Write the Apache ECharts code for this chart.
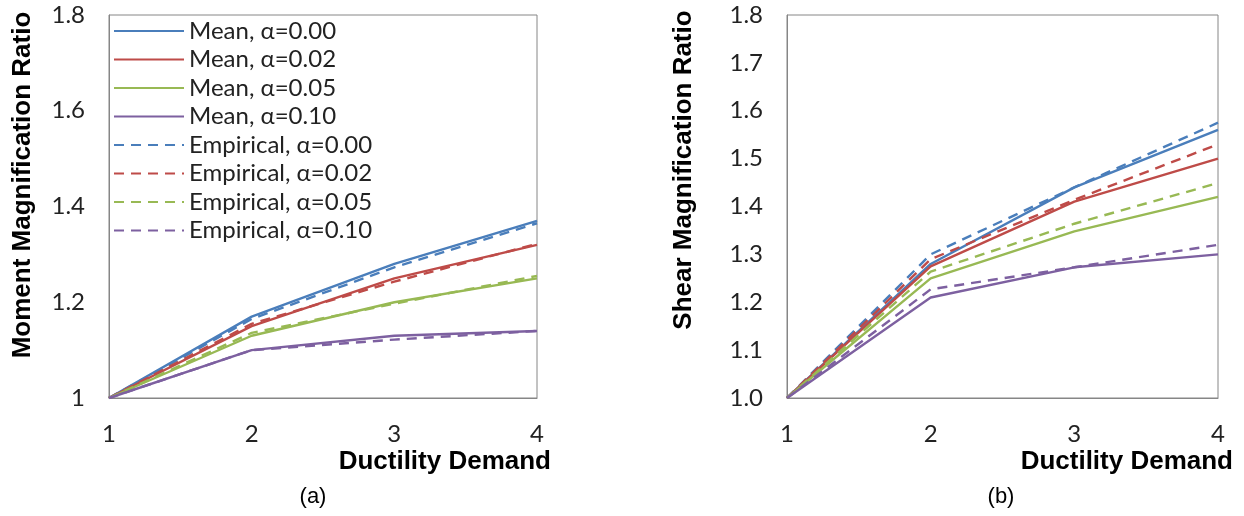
<!DOCTYPE html>
<html>
<head>
<meta charset="utf-8">
<script src="https://cdn.jsdelivr.net/npm/echarts@6/dist/echarts.min.js"></script>
<style>
  html, body { margin: 0; padding: 0; background: #ffffff; }
  #chart { width: 1244px; height: 516px; }
</style>
</head>
<body>
<div id="chart"></div>
<script>
// ---- data ----
var ductility = [1, 2, 3, 4];
var seriesNames = ['Mean, α=0.00', 'Mean, α=0.02', 'Mean, α=0.05', 'Mean, α=0.10',
                   'Empirical, α=0.00', 'Empirical, α=0.02', 'Empirical, α=0.05', 'Empirical, α=0.10'];

// (a) Moment magnification ratio
var momentMean000 = [1, 1.17, 1.28, 1.37];
var momentMean002 = [1, 1.15, 1.25, 1.32];
var momentMean005 = [1, 1.13, 1.20, 1.25];
var momentMean010 = [1, 1.10, 1.13, 1.14];
var momentEmp000 = [1, 1.165, 1.273, 1.365];
var momentEmp002 = [1, 1.155, 1.243, 1.322];
var momentEmp005 = [1, 1.136, 1.197, 1.255];
var momentEmp010 = [1, 1.10, 1.122, 1.14];

// (b) Shear magnification ratio
var shearMean000 = [1, 1.28, 1.44, 1.56];
var shearMean002 = [1, 1.275, 1.41, 1.50];
var shearMean005 = [1, 1.25, 1.348, 1.42];
var shearMean010 = [1, 1.21, 1.273, 1.30];
var shearEmp000 = [1, 1.30, 1.44, 1.575];
var shearEmp002 = [1, 1.29, 1.414, 1.53];
var shearEmp005 = [1, 1.264, 1.364, 1.449];
var shearEmp010 = [1, 1.227, 1.273, 1.32];

var momentTicks = [1, 1.2, 1.4, 1.6, 1.8];
var shearTicks = [1.0, 1.1, 1.2, 1.3, 1.4, 1.5, 1.6, 1.7, 1.8];

// ---- styling ----
var colors = ['#4A7EBB', '#BE4B48', '#98B954', '#7D60A0'];
var tickFont = 'Lato';
var titleFont = '"Liberation Sans", Arial, sans-serif';
var axisGray = '#868686';

function pairs(ys) { return ductility.map(function (x, i) { return [x, ys[i]]; }); }

function mk(name, ys, idx, colorIdx, dashed) {
  return {
    name: name, type: 'line', xAxisIndex: idx, yAxisIndex: idx,
    data: pairs(ys), symbol: 'none', showSymbol: false, silent: true,
    animation: false,
    lineStyle: { color: colors[colorIdx], width: 2.4, type: dashed ? [10, 7] : 'solid' },
    itemStyle: { color: colors[colorIdx] }
  };
}

var momentSets = [momentMean000, momentMean002, momentMean005, momentMean010,
                  momentEmp000, momentEmp002, momentEmp005, momentEmp010];
var shearSets = [shearMean000, shearMean002, shearMean005, shearMean010,
                 shearEmp000, shearEmp002, shearEmp005, shearEmp010];

var series = [];
momentSets.forEach(function (s, i) { series.push(mk(seriesNames[i], s, 0, i % 4, i >= 4)); });
shearSets.forEach(function (s, i) { series.push(mk(seriesNames[i], s, 1, i % 4, i >= 4)); });

function xAxis(gi) {
  return {
    type: 'value', gridIndex: gi, min: 1, max: 4, interval: 1,
    axisLine: { show: true, lineStyle: { color: axisGray, width: 1 } },
    axisTick: { show: false }, splitLine: { show: false },
    axisLabel: { fontFamily: tickFont, fontSize: 24, color: '#222', margin: 24 }
  };
}
function yAxis(gi, ticks, fmt) {
  return {
    type: 'value', gridIndex: gi, min: ticks[0], max: ticks[ticks.length - 1],
    interval: Math.round((ticks[1] - ticks[0]) * 10) / 10,
    axisLine: { show: true, lineStyle: { color: axisGray, width: 1 } },
    axisTick: { show: false }, splitLine: { show: false },
    axisLabel: { fontFamily: tickFont, fontSize: 24, color: '#222', margin: 24, formatter: fmt }
  };
}

var option = {
  backgroundColor: '#ffffff',
  animation: false,
  grid: [
    { left: 109, top: 15, width: 428, height: 383, show: true, borderColor: axisGray, borderWidth: 1, backgroundColor: '#fff' },
    { left: 787, top: 15, width: 431, height: 383, show: true, borderColor: axisGray, borderWidth: 1, backgroundColor: '#fff' }
  ],
  xAxis: [xAxis(0), xAxis(1)],
  yAxis: [
    yAxis(0, momentTicks, function (v) { return String(Number(v.toFixed(1))); }),
    yAxis(1, shearTicks, function (v) { return v.toFixed(1); })
  ],
  legend: {
    data: seriesNames, orient: 'vertical', left: 113, top: 18, padding: 0,
    itemWidth: 70, itemHeight: 2, itemGap: 2.5,
    itemStyle: { opacity: 0 },
    textStyle: { fontFamily: tickFont, fontSize: 24, color: '#222', lineHeight: 26 },
    selectedMode: false
  },
  graphic: [
    { type: 'text', x: 23, y: 185, rotation: Math.PI / 2,
      style: { text: 'Moment Magnification Ratio', font: 'bold 26px ' + titleFont, fill: '#000', textAlign: 'center', textVerticalAlign: 'middle' } },
    { type: 'text', x: 684, y: 170, rotation: Math.PI / 2,
      style: { text: 'Shear Magnification Ratio', font: 'bold 26px ' + titleFont, fill: '#000', textAlign: 'center', textVerticalAlign: 'middle' } },
    { type: 'text', x: 551, y: 462,
      style: { text: 'Ductility Demand', font: 'bold 26px ' + titleFont, fill: '#000', textAlign: 'right', textVerticalAlign: 'middle' } },
    { type: 'text', x: 1233, y: 462,
      style: { text: 'Ductility Demand', font: 'bold 26px ' + titleFont, fill: '#000', textAlign: 'right', textVerticalAlign: 'middle' } },
    { type: 'text', x: 313, y: 497,
      style: { text: '(a)', font: '22px ' + titleFont, fill: '#000', textAlign: 'center', textVerticalAlign: 'middle' } },
    { type: 'text', x: 1001, y: 497,
      style: { text: '(b)', font: '22px ' + titleFont, fill: '#000', textAlign: 'center', textVerticalAlign: 'middle' } }
  ],
  series: series
};

var chart = echarts.init(document.getElementById('chart'), null, { renderer: 'canvas' });
chart.setOption(option);
</script>
</body>
</html>
